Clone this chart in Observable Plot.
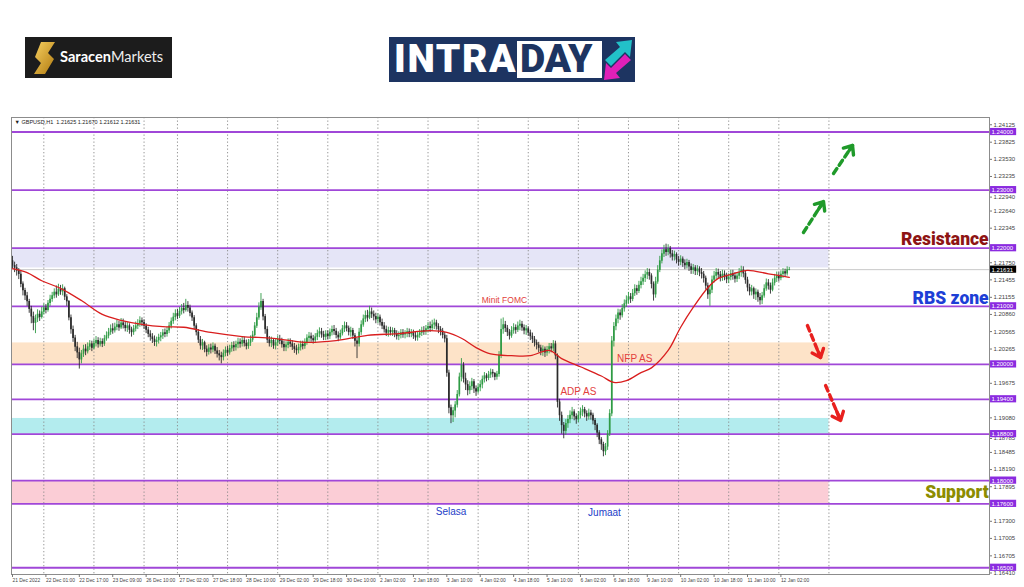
<!DOCTYPE html>
<html><head><meta charset="utf-8">
<script src="https://cdn.jsdelivr.net/npm/d3@7"></script>
<script src="https://cdn.jsdelivr.net/npm/@observablehq/plot@0.6"></script>
<style>
html,body{margin:0;padding:0;background:#fff;}
body{width:1024px;height:587px;overflow:hidden;position:relative;font-family:Roboto,"Liberation Sans",sans-serif;}
#chart{position:absolute;left:0;top:0;}
#logo1{position:absolute;left:25px;top:37px;width:147px;height:41px;background:#1c1c1c;}
#logo1 .t{position:absolute;left:35px;top:11px;font:700 14.6px Lato,"Open Sans",sans-serif;color:#fff;letter-spacing:0;}
#logo1 .t span{font-weight:400;color:#eee;}
#logo2{position:absolute;left:389px;top:37px;width:246px;height:45px;background:#1d3461;}
#logo2 .a{position:absolute;left:5px;top:-1px;font:900 39px Roboto,sans-serif;color:#fff;letter-spacing:1.6px;}
#logo2 .b{position:absolute;left:128px;top:4px;width:85px;height:37px;background:#fff;}
#logo2 .b span{position:absolute;left:3px;top:-5px;font:900 39px Roboto,sans-serif;color:#1d3461;letter-spacing:-0.3px;}
#logo2 svg{position:absolute;left:213px;top:2px;}
</style></head><body>
<div id="chart"></div>
<div id="logo1">
  <svg width="24" height="32" style="position:absolute;left:8px;top:5px" viewBox="0 0 24 32">
    <defs><linearGradient id="gd" x1="0" y1="0" x2="1" y2="1"><stop offset="0" stop-color="#f7d060"/><stop offset="1" stop-color="#b07a10"/></linearGradient></defs>
    <path d="M8 0 L22 0 L15 11 L21 17 L12 32 L1 32 L8 21 L2 15 Z" fill="url(#gd)"/>
  </svg>
  <div class="t">Saracen<span>Markets</span></div>
</div>
<div id="logo2">
  <div class="a">INTRA</div>
  <div class="b"><span>DAY</span></div>
  <svg width="32" height="42" viewBox="0 0 32 42">
    <path d="M3 21 L18 8 L14 3 L30 1 L28 18 L23 13 L9 27 Z" fill="#22c1c8"/>
    <path d="M29 21 L14 34 L18 39 L2 41 L4 24 L9 29 L23 15 Z" fill="#e020b8"/>
  </svg>
</div>
<script>
// ---- data ----
const firstOpen = 1.2178;
const close = [
1.2170,1.2166,1.2161,1.2155,1.2138,1.2127,1.2118,1.2108,1.2095,1.2082,
1.2071,1.2079,1.2086,1.2081,1.2090,1.2097,1.2093,1.2105,1.2112,1.2118,
1.2124,1.2120,1.2129,1.2125,1.2130,1.2116,1.2108,1.2080,1.2060,1.2045,
1.2030,1.2020,1.2008,1.2018,1.2026,1.2022,1.2030,1.2035,1.2028,1.2036,
1.2041,1.2034,1.2039,1.2035,1.2044,1.2049,1.2055,1.2061,1.2058,1.2064,
1.2068,1.2063,1.2071,1.2067,1.2062,1.2066,1.2059,1.2055,1.2061,1.2066,
1.2070,1.2075,1.2072,1.2066,1.2059,1.2052,1.2047,1.2043,1.2038,1.2041,
1.2046,1.2049,1.2054,1.2052,1.2058,1.2066,1.2074,1.2081,1.2087,1.2083,
1.2091,1.2096,1.2093,1.2101,1.2097,1.2088,1.2080,1.2066,1.2055,1.2042,
1.2032,1.2037,1.2026,1.2021,1.2028,1.2025,1.2031,1.2023,1.2018,1.2015,
1.2012,1.2019,1.2024,1.2020,1.2027,1.2032,1.2029,1.2034,1.2038,1.2035,
1.2041,1.2036,1.2031,1.2037,1.2042,1.2050,1.2066,1.2080,1.2098,1.2108,
1.2082,1.2060,1.2042,1.2036,1.2041,1.2032,1.2037,1.2043,1.2040,1.2034,
1.2029,1.2033,1.2038,1.2035,1.2030,1.2026,1.2024,1.2029,1.2034,1.2031,
1.2038,1.2045,1.2048,1.2044,1.2041,1.2047,1.2053,1.2056,1.2051,1.2047,
1.2052,1.2048,1.2055,1.2060,1.2057,1.2050,1.2046,1.2053,1.2061,1.2066,
1.2062,1.2055,1.2058,1.2049,1.2040,1.2035,1.2055,1.2068,1.2078,1.2084,
1.2080,1.2090,1.2086,1.2082,1.2077,1.2081,1.2072,1.2066,1.2060,1.2054,
1.2058,1.2055,1.2058,1.2052,1.2048,1.2050,1.2054,1.2051,1.2053,1.2056,
1.2052,1.2054,1.2049,1.2046,1.2050,1.2054,1.2058,1.2056,1.2061,1.2065,
1.2062,1.2068,1.2071,1.2065,1.2060,1.2057,1.2050,1.2044,1.1985,1.1925,
1.1912,1.1920,1.1930,1.1948,1.1978,1.1998,1.1975,1.1965,1.1955,1.1962,
1.1970,1.1958,1.1953,1.1960,1.1965,1.1974,1.1980,1.1976,1.1982,1.1986,
1.1984,1.1978,1.1983,1.2015,1.2060,1.2068,1.2062,1.2055,1.2049,1.2058,
1.2063,1.2059,1.2066,1.2069,1.2063,1.2058,1.2061,1.2054,1.2048,1.2043,
1.2037,1.2033,1.2028,1.2022,1.2026,1.2020,1.2025,1.2030,1.2027,1.2035,
1.2015,1.1935,1.1912,1.1895,1.1885,1.1898,1.1905,1.1912,1.1918,1.1910,
1.1905,1.1912,1.1918,1.1922,1.1915,1.1910,1.1916,1.1912,1.1903,1.1895,
1.1882,1.1870,1.1862,1.1850,1.1858,1.1880,1.1915,1.2040,1.2065,1.2078,
1.2088,1.2084,1.2096,1.2104,1.2110,1.2116,1.2112,1.2122,1.2130,1.2126,
1.2136,1.2142,1.2148,1.2154,1.2158,1.2152,1.2138,1.2120,1.2142,1.2162,
1.2178,1.2190,1.2197,1.2193,1.2199,1.2190,1.2185,1.2189,1.2180,1.2176,
1.2181,1.2174,1.2170,1.2175,1.2168,1.2162,1.2166,1.2160,1.2164,1.2158,
1.2155,1.2148,1.2135,1.2120,1.2128,1.2145,1.2152,1.2158,1.2154,1.2149,
1.2155,1.2151,1.2146,1.2150,1.2156,1.2152,1.2147,1.2152,1.2158,1.2162,
1.2156,1.2145,1.2132,1.2125,1.2130,1.2120,1.2124,1.2115,1.2110,1.2118,
1.2130,1.2140,1.2135,1.2128,1.2140,1.2148,1.2152,1.2148,1.2155,1.2159,
1.2156,1.21625,1.21631];
const high = [
1.2186,1.2176,1.2172,1.2165,1.2160,1.2142,1.2131,1.2124,1.2112,1.2100,
1.2090,1.2085,1.2094,1.2092,1.2098,1.2104,1.2103,1.2110,1.2119,1.2124,
1.2130,1.2135,1.2138,1.2136,1.2137,1.2133,1.2120,1.2110,1.2085,1.2066,
1.2050,1.2038,1.2028,1.2024,1.2033,1.2034,1.2037,1.2041,1.2040,1.2043,
1.2048,1.2046,1.2045,1.2044,1.2050,1.2056,1.2062,1.2068,1.2070,1.2071,
1.2076,1.2074,1.2079,1.2078,1.2073,1.2072,1.2070,1.2064,1.2067,1.2073,
1.2077,1.2082,1.2080,1.2077,1.2070,1.2064,1.2058,1.2053,1.2049,1.2047,
1.2052,1.2055,1.2060,1.2061,1.2064,1.2072,1.2080,1.2088,1.2094,1.2095,
1.2098,1.2103,1.2105,1.2112,1.2108,1.2102,1.2092,1.2084,1.2070,1.2060,
1.2048,1.2043,1.2040,1.2032,1.2034,1.2035,1.2037,1.2035,1.2029,1.2024,
1.2021,1.2025,1.2030,1.2031,1.2033,1.2038,1.2039,1.2040,1.2045,1.2044,
1.2048,1.2047,1.2042,1.2043,1.2049,1.2057,1.2072,1.2088,1.2106,1.2122,
1.2112,1.2086,1.2065,1.2048,1.2047,1.2044,1.2043,1.2049,1.2050,1.2045,
1.2040,1.2039,1.2044,1.2044,1.2041,1.2036,1.2033,1.2035,1.2040,1.2040,
1.2044,1.2051,1.2055,1.2054,1.2050,1.2053,1.2059,1.2063,1.2062,1.2057,
1.2058,1.2058,1.2061,1.2066,1.2067,1.2062,1.2056,1.2059,1.2067,1.2073,
1.2072,1.2066,1.2064,1.2062,1.2053,1.2045,1.2062,1.2075,1.2085,1.2092,
1.2093,1.2100,1.2097,1.2092,1.2088,1.2087,1.2085,1.2078,1.2072,1.2066,
1.2064,1.2064,1.2063,1.2062,1.2058,1.2056,1.2060,1.2060,1.2058,1.2062,
1.2061,1.2060,1.2059,1.2055,1.2056,1.2060,1.2064,1.2065,1.2067,1.2072,
1.2073,1.2076,1.2078,1.2076,1.2070,1.2065,1.2062,1.2055,1.2050,1.1990,
1.1930,1.1926,1.1936,1.1955,1.1985,1.2010,1.2003,1.1985,1.1972,1.1970,
1.1976,1.1974,1.1963,1.1966,1.1972,1.1980,1.1986,1.1984,1.1988,1.1992,
1.1991,1.1986,1.1988,1.2022,1.2078,1.2080,1.2074,1.2067,1.2060,1.2065,
1.2070,1.2068,1.2073,1.2076,1.2074,1.2068,1.2067,1.2065,1.2059,1.2054,
1.2048,1.2042,1.2038,1.2033,1.2032,1.2030,1.2031,1.2036,1.2036,1.2041,
1.2040,1.2018,1.1940,1.1918,1.1900,1.1905,1.1912,1.1920,1.1926,1.1922,
1.1915,1.1919,1.1925,1.1929,1.1926,1.1920,1.1923,1.1921,1.1916,1.1907,
1.1898,1.1886,1.1874,1.1866,1.1864,1.1886,1.1922,1.2048,1.2072,1.2085,
1.2095,1.2094,1.2103,1.2111,1.2118,1.2124,1.2122,1.2129,1.2137,1.2136,
1.2143,1.2150,1.2155,1.2161,1.2165,1.2164,1.2156,1.2142,1.2150,1.2170,
1.2186,1.2197,1.2205,1.2207,1.2206,1.2203,1.2196,1.2195,1.2192,1.2186,
1.2187,1.2185,1.2180,1.2181,1.2179,1.2173,1.2172,1.2170,1.2170,1.2168,
1.2165,1.2160,1.2152,1.2140,1.2134,1.2152,1.2160,1.2165,1.2164,1.2160,
1.2162,1.2161,1.2157,1.2156,1.2162,1.2162,1.2158,1.2158,1.2165,1.2169,
1.2168,1.2160,1.2150,1.2138,1.2136,1.2133,1.2130,1.2128,1.2122,1.2124,
1.2137,1.2147,1.2146,1.2140,1.2147,1.2155,1.2159,1.2158,1.2161,1.2165,
1.2164,1.2168,1.21670];
const low = [
1.2165,1.2158,1.2152,1.2146,1.2132,1.2118,1.2110,1.2100,1.2088,1.2070,
1.2058,1.2053,1.2072,1.2074,1.2078,1.2085,1.2087,1.2090,1.2100,1.2107,
1.2113,1.2114,1.2117,1.2119,1.2118,1.2110,1.2100,1.2075,1.2052,1.2038,
1.2022,1.2010,1.1992,1.2001,1.2012,1.2015,1.2018,1.2024,1.2022,1.2025,
1.2030,1.2028,1.2030,1.2029,1.2031,1.2040,1.2044,1.2050,1.2052,1.2054,
1.2058,1.2057,1.2060,1.2061,1.2056,1.2055,1.2052,1.2047,1.2050,1.2056,
1.2060,1.2064,1.2065,1.2060,1.2053,1.2046,1.2040,1.2036,1.2031,1.2030,
1.2035,1.2039,1.2043,1.2046,1.2047,1.2053,1.2061,1.2069,1.2075,1.2077,
1.2079,1.2085,1.2087,1.2090,1.2090,1.2082,1.2074,1.2060,1.2049,1.2036,
1.2025,1.2024,1.2020,1.2013,1.2016,1.2018,1.2020,1.2017,1.2011,1.2006,
1.2001,1.2006,1.2013,1.2014,1.2016,1.2021,1.2022,1.2023,1.2027,1.2028,
1.2030,1.2030,1.2025,1.2026,1.2031,1.2038,1.2047,1.2062,1.2076,1.2093,
1.2075,1.2052,1.2036,1.2030,1.2029,1.2026,1.2025,1.2031,1.2034,1.2028,
1.2022,1.2022,1.2027,1.2029,1.2024,1.2019,1.2016,1.2018,1.2023,1.2025,
1.2026,1.2033,1.2038,1.2038,1.2035,1.2036,1.2041,1.2046,1.2045,1.2041,
1.2041,1.2042,1.2043,1.2049,1.2050,1.2044,1.2039,1.2042,1.2049,1.2055,
1.2056,1.2049,1.2047,1.2043,1.2030,1.2010,1.2030,1.2050,1.2064,1.2072,
1.2073,1.2077,1.2079,1.2075,1.2070,1.2070,1.2066,1.2060,1.2054,1.2048,
1.2047,1.2049,1.2048,1.2046,1.2042,1.2041,1.2044,1.2045,1.2044,1.2046,
1.2046,1.2046,1.2043,1.2040,1.2040,1.2045,1.2048,1.2050,1.2050,1.2054,
1.2055,1.2057,1.2060,1.2059,1.2053,1.2049,1.2044,1.2037,1.1978,1.1915,
1.1898,1.1900,1.1908,1.1925,1.1944,1.1970,1.1968,1.1955,1.1946,1.1948,
1.1955,1.1950,1.1945,1.1949,1.1953,1.1958,1.1968,1.1970,1.1972,1.1976,
1.1977,1.1972,1.1973,1.1978,1.2010,1.2052,1.2055,1.2048,1.2042,1.2045,
1.2052,1.2052,1.2055,1.2058,1.2057,1.2051,1.2050,1.2048,1.2041,1.2036,
1.2030,1.2025,1.2020,1.2015,1.2014,1.2012,1.2014,1.2018,1.2020,1.2022,
1.2008,1.1925,1.1902,1.1880,1.1872,1.1878,1.1890,1.1898,1.1905,1.1903,
1.1897,1.1900,1.1906,1.1910,1.1908,1.1902,1.1904,1.1904,1.1896,1.1886,
1.1874,1.1862,1.1852,1.1841,1.1843,1.1852,1.1876,1.1910,1.2030,1.2058,
1.2070,1.2076,1.2080,1.2090,1.2098,1.2104,1.2105,1.2108,1.2117,1.2119,
1.2122,1.2130,1.2136,1.2141,1.2146,1.2145,1.2130,1.2109,1.2114,1.2138,
1.2158,1.2173,1.2184,1.2186,1.2187,1.2183,1.2178,1.2178,1.2173,1.2169,
1.2170,1.2167,1.2163,1.2164,1.2160,1.2155,1.2155,1.2153,1.2153,1.2151,
1.2147,1.2140,1.2128,1.2112,1.2100,1.2122,1.2140,1.2146,1.2147,1.2142,
1.2143,1.2144,1.2139,1.2139,1.2144,1.2145,1.2140,1.2141,1.2146,1.2150,
1.2149,1.2138,1.2125,1.2118,1.2118,1.2112,1.2110,1.2107,1.2102,1.2103,
1.2114,1.2126,1.2128,1.2121,1.2125,1.2135,1.2141,1.2142,1.2144,1.2148,
1.2150,1.2152,1.21612];

// moving average (red line), read at bar indices
const maIdx = [0,7,14,23,33,43,52,62,72,82,95,110,125,140,155,170,185,200,208,215,222,229,239,248,257,263,272,282,288,294,301,306,314,320,326,333,338,345,352,362,372];
const maVal = [1.2165,1.2158,1.2144,1.2131,1.2110,1.2086,1.2076,1.2069,1.2065,1.2064,1.2055,1.2048,1.2045,1.2038,1.2041,1.2050,1.2053,1.2058,1.2055,1.2045,1.2029,1.2018,1.2015,1.2015,1.2024,1.2010,1.1996,1.1980,1.1969,1.1972,1.1986,1.1994,1.2024,1.2064,1.2098,1.2132,1.2148,1.2156,1.2162,1.2156,1.2150];

// horizontal levels and zones
const levels = [1.24, 1.23, 1.22, 1.21, 1.20, 1.194, 1.188, 1.18, 1.176, 1.165];
const bandLow  = [1.2166, 1.2000, 1.1880, 1.1760];
const bandHigh = [1.2200, 1.2037, 1.1907, 1.1800];
const bandFill = ["#e5e5f7", "#fde3c8", "#b3ecee", "#fbcdd6"];
const bandEndIdx = 391;

// axes (price labels hidden by the level boxes in the reference are omitted;
// the two that peek out below a box are listed separately)
const yTicks = [1.24125,1.23825,1.23530,1.23235,1.22640,1.22345,1.21750,1.21455,1.21155,1.20860,1.20565,1.20265,1.19675,1.19080,1.18485,1.18190,1.17895,1.17300,1.17005,1.16705,1.16410];
const yTicksPeek = [1.22940, 1.18785];
const xTickIdx = [0,16,32,48,64,80,96,112,128,144,160,176,192,208,224,240,256,272,288,304,320,336,352,368];
const xTickLabels = ["21 Dec 2022","22 Dec 01:00","22 Dec 17:00","23 Dec 09:00","26 Dec 10:00","27 Dec 02:00","27 Dec 18:00","28 Dec 10:00","29 Dec 02:00","29 Dec 18:00","30 Dec 10:00","2 Jan 02:00","2 Jan 18:00","3 Jan 10:00","4 Jan 02:00","4 Jan 18:00","5 Jan 10:00","6 Jan 02:00","6 Jan 18:00","9 Jan 10:00","10 Jan 02:00","10 Jan 18:00","11 Jan 10:00","12 Jan 02:00"];
const daySepIdx = [15,39,63,79,103,127,151,175,199,223,247,271,295,319,343,367,391];

// annotations
const noteText  = ["Minit FOMC","NFP AS","ADP AS","Selasa","Jumaat"];
const noteIdx   = [235.6, 298, 271, 210, 283.5];
const notePrice = [1.2110, 1.2010, 1.1953, 1.1747, 1.1745];
const noteColor = ["#e2403c","#e2403c","#e2403c","#2440c8","#2440c8"];
const noteSize  = [8.5, 10, 10, 10, 10];
const zoneText  = ["Resistance","RBS zone","Support"];
const zonePrice = [1.22150, 1.21134, 1.17795];
const zoneColor = ["#8e1414","#1d3fd6","#8c8c00"];
const arrowX1 = [378.8, 393.2, 380.7, 389.4];
const arrowY1 = [1.22270, 1.23286, 1.20670, 1.19637];
const arrowX2 = [388.4, 402.3, 387.0, 396.6];
const arrowY2 = [1.22804, 1.23768, 1.20119, 1.19035];
const arrowColor = ["#1f9a2a","#1f9a2a","#e8201e","#e8201e"];

// ---- build ----
const xMin = -0.48, xMax = 467.9;
const yMin = 1.16384, yMax = 1.24250;
const candles = close.map((c, i) => {
  const o = i ? close[i - 1] : firstOpen;
  const h = Math.max(high[i], o, c), l = Math.min(low[i], o, c);
  return {i, o, c, h, l, up: c >= o};
});
const last = candles[candles.length - 1];
const bands = bandLow.map((lo, k) => ({lo, hi: bandHigh[k], fill: bandFill[k]}));
const ma = maIdx.map((i, k) => ({i, v: maVal[k]}));
const notes = noteText.map((t, k) => ({t, x: noteIdx[k], y: notePrice[k], c: noteColor[k], s: noteSize[k]}));
const zones = zoneText.map((t, k) => ({t, y: zonePrice[k], c: zoneColor[k]}));
const arrows = arrowX1.map((x1, k) => ({x1, y1: arrowY1[k], x2: arrowX2[k], y2: arrowY2[k], c: arrowColor[k]}));
const fmt = v => v.toFixed(5);
const pxY = 5810;
const boxH = 3.6 / pxY;
const upC = "#2f9b45", dnC = "#2b2b2b";
const purple = "#a047d8";

const chart = Plot.plot({
  width: 1024, height: 587,
  marginLeft: 11, marginRight: 35, marginTop: 117, marginBottom: 13,
  x: {type: "linear", domain: [xMin, xMax], axis: null},
  y: {type: "linear", domain: [yMin, yMax], axis: null},
  style: {fontFamily: "'Liberation Sans', Arial, sans-serif", background: "transparent", overflow: "visible"},
  marks: [
    Plot.rect(bands, {x1: xMin, x2: bandEndIdx, y1: "lo", y2: "hi", fill: "fill"}),
    Plot.ruleX(daySepIdx, {stroke: "#8a8a8a", strokeDasharray: "1.3,2.2", strokeWidth: 0.9}),
    Plot.ruleY([last.c], {stroke: "#c8c8c8", strokeWidth: 1}),
    Plot.ruleY(levels, {stroke: purple, strokeWidth: 1.8}),
    Plot.ruleX(candles, {x: "i", y1: "l", y2: "h", stroke: d => d.up ? upC : dnC, strokeWidth: 0.9}),
    Plot.ruleX(candles, {x: "i", y1: d => Math.min(d.o, d.c) - 0.00003, y2: d => Math.max(d.o, d.c) + 0.00003, stroke: d => d.up ? upC : dnC, strokeWidth: 1.7}),
    Plot.line(ma, {x: "i", y: "v", curve: "catmull-rom", stroke: "#d91e1e", strokeWidth: 1.3}),
    Plot.text(notes, {x: "x", y: "y", text: "t", fill: "c", fontSize: "s"}),
    Plot.text(zones, {x: xMax - 0.4, y: "y", text: "t", fill: "c", fontSize: 17.5, fontWeight: 900, textAnchor: "end", fontFamily: "Roboto, sans-serif"}),
    Plot.arrow(arrows, {x1: "x1", y1: "y1", x2: "x2", y2: "y2", stroke: "c", strokeWidth: 3.4, strokeDasharray: "6,4", headLength: 0}),
    Plot.arrow(arrows, {x1: "x1", y1: "y1", x2: "x2", y2: "y2", stroke: "c", strokeWidth: 3.4, headLength: 4.2, headAngle: 80, insetStart: 28}),
    Plot.frame({stroke: "#8c8c8c", strokeWidth: 1}),
    Plot.text([`\u25BC GBPUSD,H1  ${fmt(last.o)} ${fmt(last.h)} ${fmt(last.l)} ${fmt(last.c)}`], {frameAnchor: "top-left", dx: 3, dy: 3, fontSize: 5.5, fill: "#222", textAnchor: "start"}),
    Plot.axisY({anchor: "right", ticks: yTicks, tickFormat: fmt, tickSize: 2, tickPadding: 2, fontSize: 6, stroke: "#777", fill: "#444"}),
    Plot.axisY({anchor: "right", ticks: yTicksPeek, tickFormat: fmt, tickSize: 2, tickPadding: 2, fontSize: 6, stroke: "#777", fill: "#444", dy: 3.5}),
    Plot.axisX({anchor: "bottom", ticks: xTickIdx, tickFormat: d => xTickLabels[xTickIdx.indexOf(d)], tickSize: 3, tickPadding: 1, fontSize: 4.9, textAnchor: "start", stroke: "#777", fill: "#444"}),
    Plot.rect(levels, {x1: xMax + 0.5, x2: xMax + 13, y1: d => d - boxH, y2: d => d + boxH, fill: "#8b2be0"}),
    Plot.text(levels, {x: xMax + 0.9, y: d => d, text: fmt, fill: "#fff", fontSize: 6, textAnchor: "start"}),
    Plot.rect([last.c], {x1: xMax + 0.5, x2: xMax + 13, y1: d => d - boxH, y2: d => d + boxH, fill: "#000"}),
    Plot.text([last.c], {x: xMax + 0.9, y: d => d, text: fmt, fill: "#fff", fontSize: 6, textAnchor: "start"})
  ]
});
document.getElementById("chart").appendChild(chart);
</script>
</body></html>
